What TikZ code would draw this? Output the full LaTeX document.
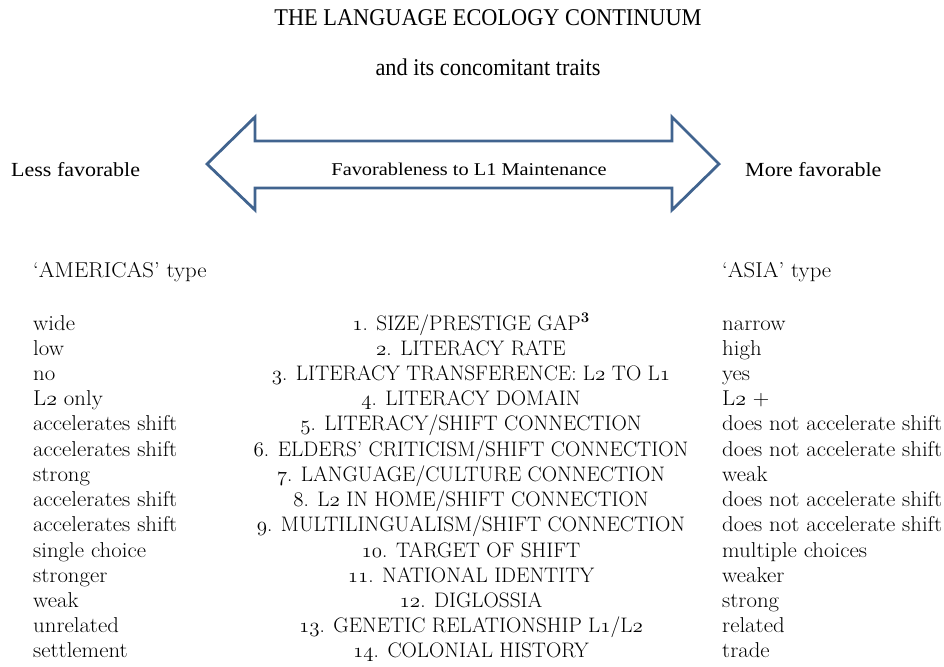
\documentclass[tikz,border=0pt]{standalone}
\usepackage{fontspec}
\newfontfamily\timesfont{Liberation Serif}
\usetikzlibrary{positioning}
\definecolor{arrowblue}{HTML}{41648F}
\newcommand{\os}[1]{{\usefont{OML}{lmm}{m}{it}#1}}

\begin{document}
\begin{tikzpicture}[x=1pt,y=-1pt,
  every node/.style={inner sep=0pt},
  heading/.style={font=\timesfont\fontsize{24}{28}\selectfont,xscale=0.93,anchor=base},
  pole/.style={font=\timesfont\fontsize{20}{24}\selectfont,xscale=1.1,anchor=base west},
  trait/.style={font=\fontsize{21.5}{25}\selectfont,xscale=1.06,anchor=base west},
  factor/.style={font=\fontsize{21}{25}\selectfont,xscale=1.01,anchor=base}]
  \useasboundingbox (0,0) rectangle (944,666);
  \node[heading] (title) at (488,26) {THE LANGUAGE ECOLOGY CONTINUUM};
  \node[heading] (subtitle) at (488,76) {and its concomitant traits};
  % double arrow of the continuum
  \draw[arrowblue,line width=2.8pt,line join=miter] (207,164) -- (255,117) -- (255,141)
    -- (672,141) -- (672,117) -- (719,164) -- (672,210) -- (672,188)
    -- (255,188) -- (255,210) -- cycle;
  \node[font=\timesfont\fontsize{18}{22}\selectfont,xscale=1.13,anchor=base] (gauge) at (469,175) {Favorableness to L1 Maintenance};
  \node[pole] (less) at (11,176) {Less favorable};
  \node[pole] (more) at (745,176) {More favorable};
  \node[trait] (americas) at (33,277) {‘AMERICAS’ type};
  \node[trait] (asia) at (722,277) {‘ASIA’ type};
  % the fourteen traits
  \foreach \lo/\fac/\hi [count=\i] in {
    {wide}/{\os{1}. SIZE/PRESTIGE GAP\textsuperscript{\textbf{3}}}/{narrow},
    {low}/{\os{2}. LITERACY RATE}/{high},
    {no}/{\os{3}. LITERACY TRANSFERENCE: L\os{2} TO L\os{1}}/{yes},
    {L\os{2} only}/{\os{4}. LITERACY DOMAIN}/{L\os{2} +},
    {accelerates shift}/{\os{5}. LITERACY/SHIFT CONNECTION}/{does not accelerate shift},
    {accelerates shift}/{\os{6}. ELDERS’ CRITICISM/SHIFT CONNECTION}/{does not accelerate shift},
    {strong}/{\os{7}. LANGUAGE/CULTURE CONNECTION}/{weak},
    {accelerates shift}/{\os{8}. L\os{2} IN HOME/SHIFT CONNECTION}/{does not accelerate shift},
    {accelerates shift}/{\os{9}. MULTILINGUALISM/SHIFT CONNECTION}/{does not accelerate shift},
    {single choice}/{\os{10}. TARGET OF SHIFT}/{multiple choices},
    {stronger}/{\os{11}. NATIONAL IDENTITY}/{weaker},
    {weak}/{\os{12}. DIGLOSSIA}/{strong},
    {unrelated}/{\os{13}. GENETIC RELATIONSHIP L\os{1}/L\os{2}}/{related},
    {settlement}/{\os{14}. COLONIAL HISTORY}/{trade}}
  {
    \node[trait] (lo-\i) at (33,304.77+25.23*\i) {\lo};
    \node[factor] (fac-\i) at (471,304.77+25.23*\i) {\fac};
    \node[trait] (hi-\i) at (722,304.77+25.23*\i) {\hi};
  }
\end{tikzpicture}
\end{document}
